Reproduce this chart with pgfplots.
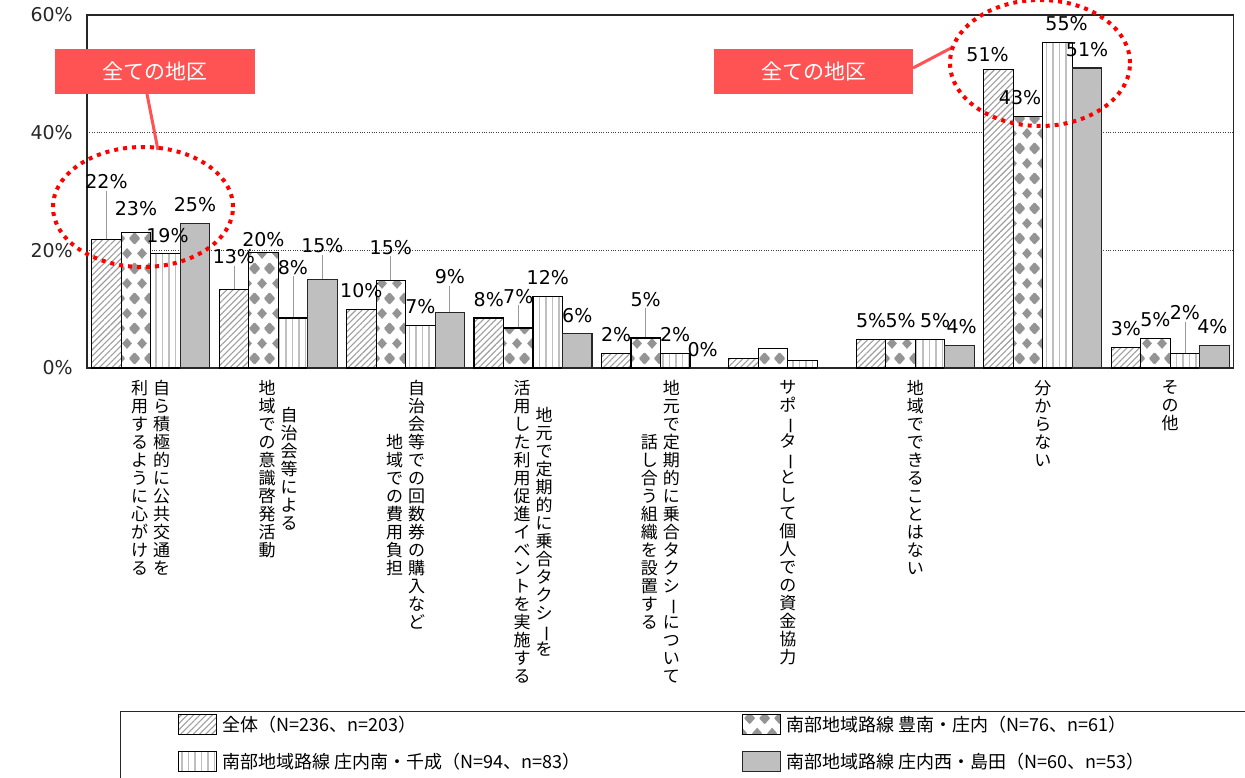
\documentclass[border=0pt]{standalone}
\usepackage{pgfplots}
\pgfplotsset{compat=1.18}
\usepackage{pgfplotstable}
\usepackage{fontspec}
\usepackage{graphicx}
\usetikzlibrary{patterns,patterns.meta}
\setmainfont{DejaVu Sans}
\newfontfamily\jp{Noto Sans CJK JP}
\definecolor{callred}{RGB}{255,82,82}

\def\diam#1#2{\pgfpathmoveto{\pgfpoint{#1-5.2bp}{#2}}\pgfpathlineto{\pgfpoint{#1}{#2+5.6bp}}\pgfpathlineto{\pgfpoint{#1+5.2bp}{#2}}\pgfpathlineto{\pgfpoint{#1}{#2-5.6bp}}\pgfpathclose}
\pgfdeclarepatternformonly{diamondgrid}{\pgfqpoint{0bp}{0bp}}{\pgfqpoint{15bp}{30bp}}{\pgfqpoint{15bp}{30bp}}{%
 \diam{0bp}{0bp}\diam{15bp}{0bp}\diam{0bp}{30bp}\diam{15bp}{30bp}\diam{7.5bp}{15bp}\pgfusepath{fill}}

\newlength\vpitch \setlength\vpitch{18bp}
\protected\def\vchar#1{\hbox to \vpitch{\hss\ifx ー#1\rotatebox[origin=c]{-90}{ー}\else#1\fi\hss}}
\protected\def\vcolaux#1{\ifx\relax#1\else\vchar{#1}\expandafter\vcolaux\fi}
\protected\def\vcol#1{\vbox{\baselineskip=\vpitch\lineskiplimit=-50bp\lineskip=0pt\vcolaux#1\relax}}
\protected\def\jtwo#1#2{\hbox{$\vcenter{\vcol{#2}}\kern4bp\vcenter{\vcol{#1}}$}}
\protected\def\jone#1{\hbox{$\vcenter{\vcol{#1}}$}}

\protected\def\leaderrule{\ifdim\dy pt>10pt \textcolor{black!40}{\rule{0.8bp}{\dimexpr\dy bp+9bp\relax}}\else\rule{0pt}{\dimexpr\dy bp+9bp\relax}\fi}
\protected\def\labnode{\ifnum\pgfplotspointmeta<0 \else\vbox{\offinterlineskip\halign{\hfil##\hfil\cr\pgfplotspointmeta\%\cr\noalign{\kern2bp}\leaderrule\cr}}\fi}

\pgfplotstableread{
x y lab dx dy
0 21.9 22 0 39
1 13.4 13 0 14
2 10.0 10 0 0
3 8.5 8 0 0
4 2.5 2 0 0
5 1.6 -1 0 0
6 4.9 5 0 0
7 50.8 51 -11 -4
8 3.5 3 0 0
}\tA
\pgfplotstableread{
x y lab dx dy
0 23.1 23 0 5
1 19.7 20 0 -6
2 14.8 15 0 15
3 6.8 7 0 13
4 5.1 5 0 20
5 3.3 -1 0 0
6 4.9 5 0 0
7 42.7 43 -8 0
8 5.0 5 0 0
}\tB
\pgfplotstableread{
x y lab dx dy
0 19.4 19 2 0
1 8.5 8 0 32
2 7.3 7 0 0
3 12.1 12 0 0
4 2.5 2 0 0
5 1.2 -1 0 0
6 4.8 5 5 0
7 55.4 55 9 0
8 2.5 2 0 22
}\tC
\pgfplotstableread{
x y lab dx dy
0 24.6 25 0 0
1 15.1 15 0 15
2 9.5 9 0 17
3 5.8 6 0 0
4 0 0 -2 0
5 0 -1 0 0
6 3.8 4 2 0
7 51.0 51 0 0
8 3.9 4 -2 0
}\tD

\begin{document}
\begin{tikzpicture}
\useasboundingbox (0,0) rectangle (1245bp,-778bp);
\begin{axis}[
  at={(87bp,-15bp)}, anchor=north west,
  width=1147bp, height=353bp, scale only axis,
  ybar=0pt, bar width=29.5bp,
  legend image code/.code={\draw[#1] (0bp,-10bp) rectangle (38bp,10bp);},
  xmin=-0.5, xmax=8.5, ymin=0, ymax=60,
  enlargelimits=false, clip=false,
  ytick={0,20,40,60},
  yticklabel={\pgfmathprintnumber[assume math mode=true]{\tick}\%},
  yticklabel style={font=\fontsize{19bp}{21bp}\selectfont, anchor=east, inner sep=0pt, xshift=-14bp, text=black!85},
  xtick={0,...,8},
  xticklabels={
    {\jtwo{自ら積極的に公共交通を}{利用するように心がける}},
    {\jtwo{自治会等による}{地域での意識啓発活動}},
    {\jtwo{自治会等での回数券の購入など}{地域での費用負担}},
    {\jtwo{地元で定期的に乗合タクシーを}{活用した利用促進イベントを実施する}},
    {\jtwo{地元で定期的に乗合タクシーについて}{話し合う組織を設置する}},
    {\jone{サポーターとして個人での資金協力}},
    {\jone{地域でできることはない}},
    {\jone{分からない}},
    {\jone{その他}}},
  xticklabel style={font=\jp\fontsize{17bp}{18bp}\selectfont, anchor=north, inner sep=0pt, yshift=-12bp},
  major tick length=0pt,
  ymajorgrids, major grid style={black!75, dotted, line width=0.9bp},
  axis line style={black!85, line width=1.1bp},
  point meta=explicit symbolic,
  visualization depends on={\thisrow{dx}\as\dx},
  visualization depends on={\thisrow{dy}\as\dy},
  nodes near coords={\labnode},
  every node near coord/.append style={font=\fontsize{19bp}{21bp}\selectfont, anchor=south, inner sep=0pt, xshift=\dx*1bp},
  legend columns=2,
  legend cell align=left,
  legend style={at={(0.07934,-0.9788)}, anchor=north west, draw=none, fill=none,
    inner sep=0pt, column sep=5bp, row sep=16bp,
    font=\jp\fontsize{18bp}{20bp}\selectfont, nodes={inner sep=0pt}},
]
\addplot[draw=black, line width=1.1bp, fill=white, postaction={pattern={Lines[angle=45,distance=4.4bp,line width=1.1bp]}, pattern color=black!38}]
  table[x=x, y=y, meta=lab] {\tA};
\addplot[draw=black, line width=1.1bp, fill=white, postaction={pattern=diamondgrid, pattern color=black!42}]
  table[x=x, y=y, meta=lab] {\tB};
\addplot[draw=black, line width=1.1bp, fill=white, postaction={pattern={Lines[angle=90,distance=6.5bp,line width=1.3bp]}, pattern color=black!25}]
  table[x=x, y=y, meta=lab] {\tC};
\addplot[draw=black!85, line width=1.1bp, fill=black!25]
  table[x=x, y=y, meta=lab] {\tD};
\legend{{\makebox[515bp][l]{全体（N=236、n=203）}},
        {南部地域路線 豊南・庄内（N=76、n=61）},
        {\makebox[515bp][l]{南部地域路線 庄内南・千成（N=94、n=83）}},
        {南部地域路線 庄内西・島田（N=60、n=53）}}
\end{axis}
% legend frame
\draw[black!85, line width=1bp] (120bp,-711bp) rectangle (1300bp,-800bp);
% callouts
\draw[callred, line width=3bp] (147bp,-94bp) -- (158bp,-150bp);
\draw[callred, line width=3bp] (913bp,-68bp) -- (953bp,-47bp);
\fill[callred] (55bp,-49bp) rectangle (255bp,-94bp);
\fill[callred] (714bp,-49bp) rectangle (913bp,-94bp);
\node[text=white, font=\jp\fontsize{21bp}{23bp}\selectfont] at (155bp,-71.5bp) {全ての地区};
\node[text=white, font=\jp\fontsize{21bp}{23bp}\selectfont] at (813.5bp,-71.5bp) {全ての地区};
\draw[red, line width=4bp, dash pattern=on 4bp off 5bp] (143bp,-207bp) ellipse [x radius=90bp, y radius=60bp];
\draw[red, line width=4bp, dash pattern=on 4bp off 5bp] (1040bp,-63bp) ellipse [x radius=90bp, y radius=63bp];
\end{tikzpicture}
\end{document}
